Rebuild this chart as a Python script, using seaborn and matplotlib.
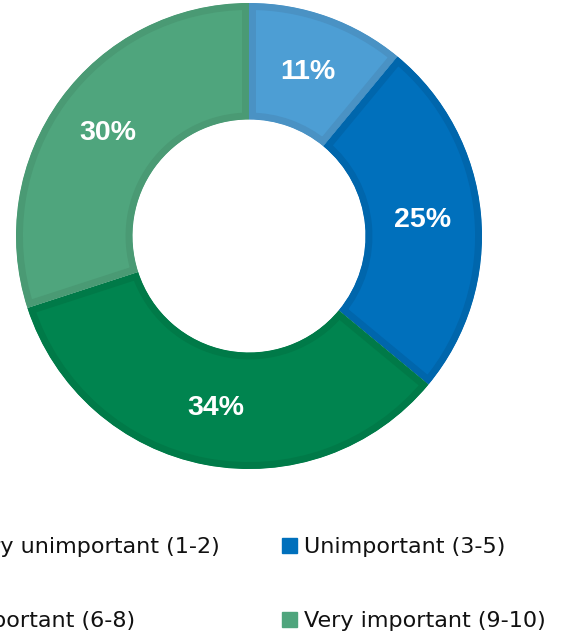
import matplotlib
matplotlib.use("Agg")
import matplotlib.pyplot as plt
import seaborn as sns

# survey answers, clockwise from 12 o'clock
categories = ["Very unimportant (1-2)", "Unimportant (3-5)", "Important (6-8)", "Very important (9-10)"]
shares = [11, 25, 34, 30]
fill_colors = ["#4D9ED4", "#0070BC", "#00844F", "#4FA57D"]
edge_colors = ["#4A92C4", "#0066AC", "#007A48", "#4A9A74"]

sns.set_theme(style="white")
plt.rcParams['font.family'] = ['DejaVu Sans']

fig = plt.figure(figsize=(5.62, 6.36), dpi=100)
ax = fig.add_axes([16 / 562, 1 - 469 / 636, 466 / 562, 466 / 636])

wedges, texts, autotexts = ax.pie(
    shares,
    colors=fill_colors,
    startangle=90,
    counterclock=False,
    radius=1,
    autopct=lambda p: f"{p:.0f}%",
    pctdistance=0.75,
    wedgeprops=dict(width=0.5, linewidth=10),
    textprops=dict(color="white", fontsize=20.5, fontweight="bold",
                   family=['Liberation Sans', 'DejaVu Sans']),
)
for w, ec in zip(wedges, edge_colors):
    w.set_edgecolor(ec)
    w.set_clip_on(True)
    w.set_clip_path(w)  # keep only the inner half of the border

ax.set_xlim(-1, 1)
ax.set_ylim(-1, 1)
ax.set_aspect("equal")
ax.axis("off")

# legend is filled column by column, so order it to read across the rows
order = [0, 2, 1, 3]
handles = [plt.Rectangle((0, 0), 1, 1, color=fill_colors[i]) for i in order]
labels = [categories[i] for i in order]
fig.legend(
    handles, labels,
    loc="upper right",
    bbox_to_anchor=(546 / 562, 1 - 537 / 636),
    ncol=2,
    frameon=False,
    fontsize=16,
    labelcolor="#111111",
    handlelength=0.67,
    handleheight=0.67,
    handletextpad=0.31,
    columnspacing=2.8,
    labelspacing=2.44,
    borderpad=0,
    borderaxespad=0,
)

fig.savefig("out.png", dpi=100)
